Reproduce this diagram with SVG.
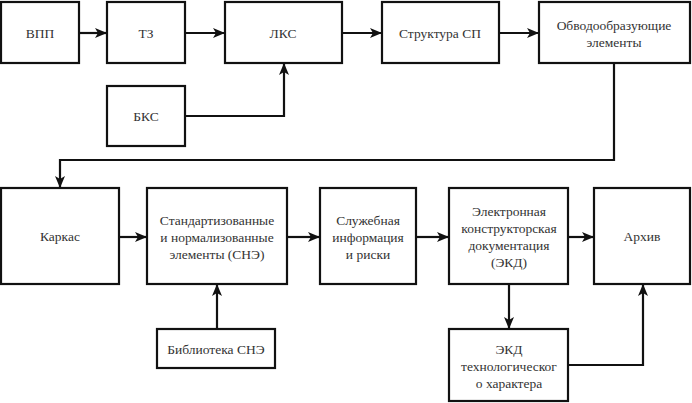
<svg xmlns="http://www.w3.org/2000/svg" width="692" height="403" viewBox="0 0 692 403">
<defs>
<marker id="ah" markerWidth="12" markerHeight="10" refX="11" refY="5" orient="auto" markerUnits="userSpaceOnUse">
<path d="M0,0 L12,5 L0,10 L3,5 z" fill="#111"/>
</marker>
</defs>
<rect width="692" height="403" fill="#fff"/>
<g id="nodes" fill="#fff" stroke="#111" stroke-width="2.2">
<g id="n-vpp"><rect x="1" y="2" width="78" height="61"/></g>
<g id="n-tz"><rect x="107" y="2" width="78" height="61"/></g>
<g id="n-lks"><rect x="225" y="2" width="117" height="61"/></g>
<g id="n-sp"><rect x="382" y="2" width="117" height="61"/></g>
<g id="n-obv"><rect x="539" y="2" width="151" height="61"/></g>
<g id="n-bks"><rect x="107" y="86" width="78" height="60"/></g>
<g id="n-karkas"><rect x="1" y="188" width="118" height="96"/></g>
<g id="n-sne"><rect x="147" y="188" width="140" height="96"/></g>
<g id="n-sluzh"><rect x="320" y="188" width="96" height="96"/></g>
<g id="n-ekd"><rect x="449" y="188" width="119" height="96"/></g>
<g id="n-arhiv"><rect x="594" y="188" width="96" height="96"/></g>
<g id="n-bibl"><rect x="157" y="329" width="118" height="39"/></g>
<g id="n-ekdteh"><rect x="449" y="329" width="119" height="72"/></g>
</g>
<g id="labels" font-family="'Liberation Serif', serif" font-size="13.5" fill="#333" text-anchor="middle">
<text x="40" y="38">ВПП</text>
<text x="146" y="38">ТЗ</text>
<text x="283" y="38">ЛКС</text>
<text x="440" y="38">Структура СП</text>
<text x="614" y="30">Обводообразующие</text><text x="614" y="47">элементы</text>
<text x="146" y="121">БКС</text>
<text x="60" y="241">Каркас</text>
<text x="217" y="225">Стандартизованные</text><text x="217" y="242">и нормализованные</text><text x="217" y="259">элементы (СНЭ)</text>
<text x="368" y="225">Служебная</text><text x="368" y="242">информация</text><text x="368" y="259">и риски</text>
<text x="509" y="216">Электронная</text><text x="509" y="233">конструкторская</text><text x="509" y="250">документация</text><text x="509" y="267">(ЭКД)</text>
<text x="642" y="241">Архив</text>
<text x="216" y="354">Библиотека СНЭ</text>
<text x="509" y="354">ЭКД</text><text x="509" y="371">технологическог</text><text x="509" y="388">о характера</text>
</g>
<g id="connectors" fill="none" stroke="#111" stroke-width="2.2" marker-end="url(#ah)">
<path d="M79,33 H106"/>
<path d="M185,33 H224"/>
<path d="M342,33 H381"/>
<path d="M499,33 H538"/>
<path d="M185,116 H284 V64"/>
<path d="M614,63 V160 H60 V187"/>
<path d="M119,237 H146"/>
<path d="M287,237 H319"/>
<path d="M416,237 H448"/>
<path d="M568,237 H593"/>
<path d="M217,329 V285"/>
<path d="M509,284 V328"/>
<path d="M568,365 H643 V285"/>
</g>
</svg>
